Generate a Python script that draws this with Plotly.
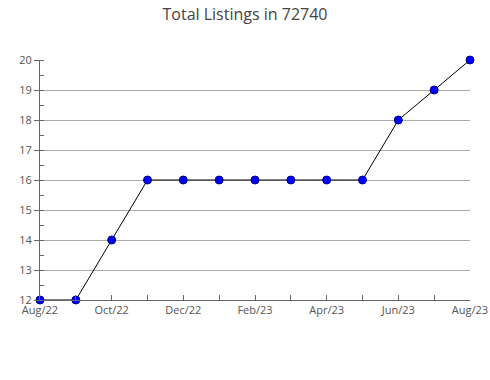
import plotly.graph_objects as go

months = ["Aug/22", "Sep/22", "Oct/22", "Nov/22", "Dec/22", "Jan/23", "Feb/23",
          "Mar/23", "Apr/23", "May/23", "Jun/23", "Jul/23", "Aug/23"]
listings = [12, 12, 14, 16, 16, 16, 16, 16, 16, 16, 18, 19, 20]
tick_labels = [m if i % 2 == 0 else "" for i, m in enumerate(months)]
y_ticks = list(range(12, 21))

xs = list(range(len(months)))

fig = go.Figure()
fig.add_trace(go.Scatter(
    x=xs, y=listings, mode="lines+markers",
    line=dict(color="black", width=1),
    marker=dict(color="#0000ff", size=8, line=dict(color="#000080", width=1)),
    cliponaxis=False, hoverinfo="x+y",
))

font_family = "Open Sans, Noto Sans, sans-serif"
fig.update_layout(
    width=490, height=380,
    margin=dict(l=40, r=20, t=60, b=80),
    paper_bgcolor="white", plot_bgcolor="white",
    showlegend=False,
    title=dict(text="Total Listings in 72740", x=0.5, xanchor="center",
               y=0.962, yanchor="middle",
               font=dict(family=font_family, size=16, color="#444")),
    font=dict(family=font_family, size=11, color="#555"),
)
fig.update_xaxes(
    range=[0, 12], tickvals=xs, ticktext=tick_labels, automargin=False,
    ticks="inside", ticklen=5, tickcolor="#666",
    showline=True, linecolor="#666", linewidth=1,
    showgrid=False, zeroline=False, tickangle=0,
)
fig.update_yaxes(
    range=[12, 20], tickvals=y_ticks, automargin=False,
    ticks="outside", ticklen=5, tickcolor="#666",
    showline=True, linecolor="#666", linewidth=1,
    showgrid=True, gridcolor="#aaa", gridwidth=1, zeroline=False,
    minor=dict(ticks="inside", dtick=0.5, ticklen=4, tickcolor="#666", showgrid=False),
)
fig.write_html("out.html")
